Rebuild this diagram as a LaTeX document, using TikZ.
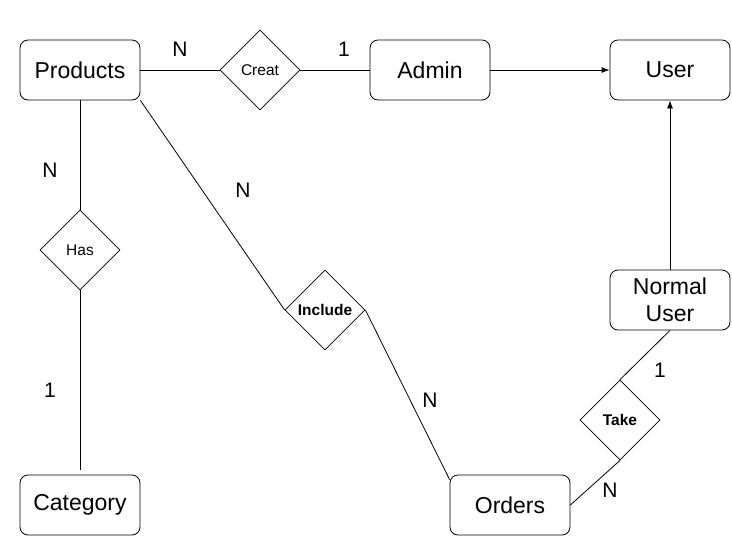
\documentclass[tikz,border=0pt]{standalone}
\usepackage{fontspec}
\setmainfont{Liberation Sans}
\usetikzlibrary{shapes.geometric, arrows.meta}
\tikzset{
  entity/.style={draw, rounded corners=8pt, minimum width=120pt, minimum height=60pt,
    align=center, font=\fontsize{23}{27}\selectfont},
  relation/.style={draw, diamond, aspect=1, inner sep=0pt, minimum width=80pt,
    minimum height=80pt, font=\fontsize{15.5}{17}\selectfont},
  card/.style={font=\fontsize{21}{23}\selectfont},
  tip/.style={-{Latex[length=8pt, width=6pt]}},
}
\begin{document}
\begin{tikzpicture}[x=1pt, y=-1pt, line width=0.8pt]
\useasboundingbox (0,0) rectangle (732,542);
% entities
\node[entity] (products) at (80,70) {Products};
\node[entity] (admin) at (430,70) {Admin};
\node[entity] (user) at (670,70) {User};
\node[entity] (normaluser) at (670,300) {Normal\\User};
\node[entity] (category) at (80,505) {Category};
\node[entity] (orders) at (510,505) {Orders};
% relations
\node[relation] (creat) at (260,70) {Creat};
\node[relation] (has) at (80,250) {Has};
\node[relation] (include) at (325,310) {\bfseries Include};
\node[relation] (take) at (620,420) {\bfseries Take};
% lines
\draw (products) -- (creat) -- (admin);
\draw[tip] (admin) -- (user);
\draw[tip] (normaluser) -- (user);
\draw (products) -- (has);
\draw[shorten >=5pt] (has) -- (category);
\draw (products.south east) -- (include.west);
\draw (include.east) -- ([yshift=-5pt]orders.north west);
\draw (orders.east) -- (take.south);
\draw (take.north) -- (normaluser.south);
% cardinalities
\node[card] (c1) at (180,49) {N};
\node[card] (c2) at (344,49) {1};
\node[card] (c3) at (50,170) {N};
\node[card] (c4) at (50,390) {1};
\node[card] (c5) at (243,190) {N};
\node[card] (c6) at (430,400) {N};
\node[card] (c7) at (660,370) {1};
\node[card] (c8) at (610,490) {N};
\end{tikzpicture}
\end{document}
